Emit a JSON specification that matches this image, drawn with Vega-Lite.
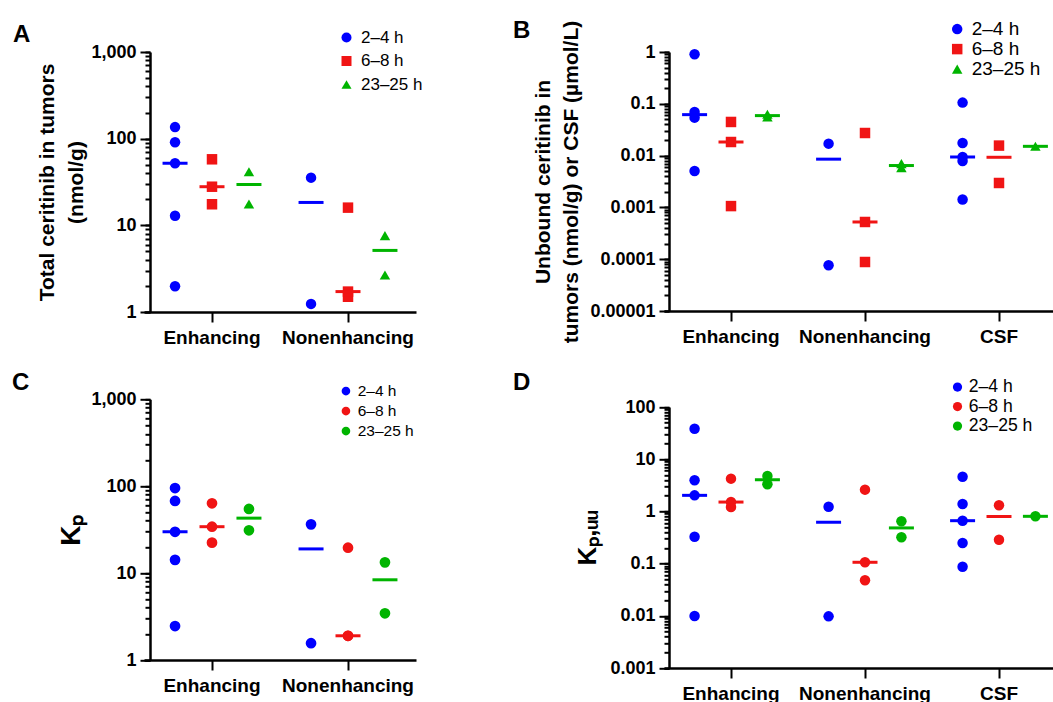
{
  "$schema": "https://vega.github.io/schema/vega-lite/v6.json",
  "autosize": {"type": "pad"},
  "padding": {"left": 12, "top": 18, "right": 0, "bottom": 0},
  "background": "white",
  "datasets": {
    "A": [
      {"region": "Enhancing", "time": "2–4 h", "value": 136},
      {"region": "Enhancing", "time": "2–4 h", "value": 90.8},
      {"region": "Enhancing", "time": "2–4 h", "value": 52},
      {"region": "Enhancing", "time": "2–4 h", "value": 12.9},
      {"region": "Enhancing", "time": "2–4 h", "value": 1.98},
      {"region": "Enhancing", "time": "6–8 h", "value": 57.8},
      {"region": "Enhancing", "time": "6–8 h", "value": 27.9},
      {"region": "Enhancing", "time": "6–8 h", "value": 17.5},
      {"region": "Enhancing", "time": "23–25 h", "value": 41.6},
      {"region": "Enhancing", "time": "23–25 h", "value": 17.6},
      {"region": "Nonenhancing", "time": "2–4 h", "value": 35.5},
      {"region": "Nonenhancing", "time": "2–4 h", "value": 1.24},
      {"region": "Nonenhancing", "time": "6–8 h", "value": 16.0},
      {"region": "Nonenhancing", "time": "6–8 h", "value": 1.5},
      {"region": "Nonenhancing", "time": "6–8 h", "value": 1.72},
      {"region": "Nonenhancing", "time": "23–25 h", "value": 7.6},
      {"region": "Nonenhancing", "time": "23–25 h", "value": 2.67}
    ],
    "B": [
      {"region": "Enhancing", "time": "2–4 h", "value": 0.903},
      {"region": "Enhancing", "time": "2–4 h", "value": 0.0695},
      {"region": "Enhancing", "time": "2–4 h", "value": 0.054},
      {"region": "Enhancing", "time": "2–4 h", "value": 0.00505},
      {"region": "Enhancing", "time": "6–8 h", "value": 0.0446},
      {"region": "Enhancing", "time": "6–8 h", "value": 0.0183},
      {"region": "Enhancing", "time": "6–8 h", "value": 0.00106},
      {"region": "Enhancing", "time": "23–25 h", "value": 0.0556},
      {"region": "Enhancing", "time": "23–25 h", "value": 0.0627},
      {"region": "Nonenhancing", "time": "2–4 h", "value": 0.017},
      {"region": "Nonenhancing", "time": "2–4 h", "value": 0.0000762},
      {"region": "Nonenhancing", "time": "6–8 h", "value": 0.0273},
      {"region": "Nonenhancing", "time": "6–8 h", "value": 0.000523},
      {"region": "Nonenhancing", "time": "6–8 h", "value": 0.0000883},
      {"region": "Nonenhancing", "time": "23–25 h", "value": 0.00586},
      {"region": "Nonenhancing", "time": "23–25 h", "value": 0.007},
      {"region": "CSF", "time": "2–4 h", "value": 0.1054},
      {"region": "CSF", "time": "2–4 h", "value": 0.0175},
      {"region": "CSF", "time": "2–4 h", "value": 0.0094},
      {"region": "CSF", "time": "2–4 h", "value": 0.00787},
      {"region": "CSF", "time": "2–4 h", "value": 0.00142},
      {"region": "CSF", "time": "6–8 h", "value": 0.0156},
      {"region": "CSF", "time": "6–8 h", "value": 0.00296},
      {"region": "CSF", "time": "23–25 h", "value": 0.0151}
    ],
    "C": [
      {"region": "Enhancing", "time": "2–4 h", "value": 95.3},
      {"region": "Enhancing", "time": "2–4 h", "value": 67.6},
      {"region": "Enhancing", "time": "2–4 h", "value": 29.9},
      {"region": "Enhancing", "time": "2–4 h", "value": 14.2},
      {"region": "Enhancing", "time": "2–4 h", "value": 2.46},
      {"region": "Enhancing", "time": "6–8 h", "value": 63.6},
      {"region": "Enhancing", "time": "6–8 h", "value": 34.2},
      {"region": "Enhancing", "time": "6–8 h", "value": 22.4},
      {"region": "Enhancing", "time": "23–25 h", "value": 54.7},
      {"region": "Enhancing", "time": "23–25 h", "value": 31.1},
      {"region": "Nonenhancing", "time": "2–4 h", "value": 36.4},
      {"region": "Nonenhancing", "time": "2–4 h", "value": 1.56},
      {"region": "Nonenhancing", "time": "6–8 h", "value": 19.6},
      {"region": "Nonenhancing", "time": "6–8 h", "value": 1.9},
      {"region": "Nonenhancing", "time": "6–8 h", "value": 1.9},
      {"region": "Nonenhancing", "time": "23–25 h", "value": 13.3},
      {"region": "Nonenhancing", "time": "23–25 h", "value": 3.45}
    ],
    "D": [
      {"region": "Enhancing", "time": "2–4 h", "value": 38.4},
      {"region": "Enhancing", "time": "2–4 h", "value": 3.94},
      {"region": "Enhancing", "time": "2–4 h", "value": 2.03},
      {"region": "Enhancing", "time": "2–4 h", "value": 0.327},
      {"region": "Enhancing", "time": "2–4 h", "value": 0.0099},
      {"region": "Enhancing", "time": "6–8 h", "value": 1.21},
      {"region": "Enhancing", "time": "6–8 h", "value": 4.24},
      {"region": "Enhancing", "time": "6–8 h", "value": 1.51},
      {"region": "Enhancing", "time": "23–25 h", "value": 3.31},
      {"region": "Enhancing", "time": "23–25 h", "value": 4.77},
      {"region": "Nonenhancing", "time": "2–4 h", "value": 1.23},
      {"region": "Nonenhancing", "time": "2–4 h", "value": 0.00976},
      {"region": "Nonenhancing", "time": "6–8 h", "value": 2.61},
      {"region": "Nonenhancing", "time": "6–8 h", "value": 0.106},
      {"region": "Nonenhancing", "time": "6–8 h", "value": 0.048},
      {"region": "Nonenhancing", "time": "23–25 h", "value": 0.646},
      {"region": "Nonenhancing", "time": "23–25 h", "value": 0.319},
      {"region": "CSF", "time": "2–4 h", "value": 4.62},
      {"region": "CSF", "time": "2–4 h", "value": 1.39},
      {"region": "CSF", "time": "2–4 h", "value": 0.664},
      {"region": "CSF", "time": "2–4 h", "value": 0.248},
      {"region": "CSF", "time": "2–4 h", "value": 0.0873},
      {"region": "CSF", "time": "6–8 h", "value": 1.31},
      {"region": "CSF", "time": "6–8 h", "value": 0.287},
      {"region": "CSF", "time": "23–25 h", "value": 0.805}
    ]
  },
  "columns": 2,
  "bounds": "flush",
  "align": "each",
  "spacing": {"row": 87.3, "column": 257},
  "resolve": {"scale": {"color": "independent", "shape": "independent", "x": "independent", "y": "independent", "xOffset": "independent"}},
  "concat": [
    {
      "width": 262,
      "height": 260,
      "title": {"text": "A", "anchor": "start", "frame": "group", "fontSize": 24, "fontWeight": "bold", "font": "Liberation Sans", "color": "black", "baseline": "alphabetic", "dx": -137, "offset": -25, "dy": 12},
      "data": {"name": "A"},
      "encoding": {
        "x": {"field": "region", "type": "nominal", "sort": ["Enhancing", "Nonenhancing"], "scale": {"type": "band", "range": [-6, 266], "paddingInner": 0, "paddingOuter": 0}, "axis": {"title": null, "labelAngle": 0, "labelFontSize": 19, "labelPadding": 6, "tickSize": 10}},
        "xOffset": {"field": "time", "type": "nominal", "sort": ["2–4 h", "6–8 h", "23–25 h"], "scale": {"paddingInner": 0, "paddingOuter": 0.34}},
        "color": {"field": "time", "type": "nominal", "sort": ["2–4 h", "6–8 h", "23–25 h"], "scale": {"domain": ["2–4 h", "6–8 h", "23–25 h"], "range": ["#0000ff", "#f01414", "#00b400"]},
          "legend": {"title": null, "orient": "none", "legendX": 188, "legendY": -23, "labelFontSize": 17, "labelFontWeight": "normal", "symbolSize": 100, "rowPadding": 5.5, "labelOffset": 6, "padding": 0, "symbolStrokeWidth": 0}}
      },
      "resolve": {"axis": {"y": "independent"}},
      "layer": [
        {
          "mark": {"type": "point", "filled": true, "size": 110, "opacity": 1, "strokeWidth": 0},
          "encoding": {
            "y": {"field": "value", "type": "quantitative", "scale": {"type": "log", "domain": [1, 1000], "nice": false},
              "axis": {"orient": "left", "values": [1,2,3,4,5,6,7,8,9,10,20,30,40,50,60,70,80,90,100,200,300,400,500,600,700,800,900,1000], "format": ",~f", "tickSize": 5, "labelPadding": 9,
                "labelExpr": "abs(log(datum.value)/LN10 - round(log(datum.value)/LN10)) < 0.001 ? datum.label : ''",
                "title": ["Total ceritinib in tumors", "(nmol/g)"], "titleFontSize": 21, "titleLineHeight": 29, "titlePadding": 4}},
            "shape": {"field": "time", "type": "nominal", "scale": {"domain": ["2–4 h", "6–8 h", "23–25 h"], "range": ["circle", "square", "triangle-up"]}}
          }
        },
        {
          "mark": {"type": "tick", "size": 25, "thickness": 3},
          "encoding": {
            "y": {"aggregate": "median", "field": "value", "type": "quantitative",
              "axis": {"orient": "left", "values": [1, 10, 100, 1000], "labels": false, "domain": false, "title": null, "tickSize": 10}},
            "color": {"field": "time", "type": "nominal", "legend": null}
          }
        }
      ]
    },
    {
      "width": 392,
      "height": 259,
      "title": {"text": "B", "anchor": "start", "frame": "group", "fontSize": 24, "fontWeight": "bold", "font": "Liberation Sans", "color": "black", "baseline": "alphabetic", "dx": -156, "offset": -24.7, "dy": 17.3},
      "data": {"name": "B"},
      "encoding": {
        "x": {"field": "region", "type": "nominal", "sort": ["Enhancing", "Nonenhancing", "CSF"], "scale": {"type": "band", "range": [-5, 397], "paddingInner": 0, "paddingOuter": 0}, "axis": {"title": null, "labelAngle": 0, "labelFontSize": 19, "labelPadding": 6, "tickSize": 10}},
        "xOffset": {"field": "time", "type": "nominal", "sort": ["2–4 h", "6–8 h", "23–25 h"], "scale": {"paddingInner": 0, "paddingOuter": 0.34}},
        "color": {"field": "time", "type": "nominal", "sort": ["2–4 h", "6–8 h", "23–25 h"], "scale": {"domain": ["2–4 h", "6–8 h", "23–25 h"], "range": ["#0000ff", "#f01414", "#00b400"]},
          "legend": {"title": null, "orient": "none", "legendX": 278.7, "legendY": -32.4, "labelFontSize": 19, "labelFontWeight": "normal", "symbolSize": 110, "rowPadding": 0, "labelOffset": 5, "padding": 0, "symbolStrokeWidth": 0}}
      },
      "resolve": {"axis": {"y": "independent"}},
      "layer": [
        {
          "mark": {"type": "point", "filled": true, "size": 110, "opacity": 1, "strokeWidth": 0},
          "encoding": {
            "y": {"field": "value", "type": "quantitative", "scale": {"type": "log", "domain": [0.00001, 1], "nice": false},
              "axis": {"orient": "left", "values": [0.00001,0.00002,0.00003,0.00004,0.00005,0.00006,0.00007,0.00008,0.00009,0.0001,0.0002,0.0003,0.0004,0.0005,0.0006,0.0007,0.0008,0.0009,0.001,0.002,0.003,0.004,0.005,0.006,0.007,0.008,0.009,0.01,0.02,0.03,0.04,0.05,0.06,0.07,0.08,0.09,0.1,0.2,0.3,0.4,0.5,0.6,0.7,0.8,0.9,1], "format": "~f", "tickSize": 5, "labelPadding": 9,
                "labelExpr": "abs(log(datum.value)/LN10 - round(log(datum.value)/LN10)) < 0.001 ? datum.label : ''",
                "title": ["Unbound ceritinib in", "tumors (nmol/g) or CSF (µmol/L)"], "titleFontSize": 21, "titleLineHeight": 28, "titlePadding": 8}},
            "shape": {"field": "time", "type": "nominal", "scale": {"domain": ["2–4 h", "6–8 h", "23–25 h"], "range": ["circle", "square", "triangle-up"]}}
          }
        },
        {
          "mark": {"type": "tick", "size": 25, "thickness": 3},
          "encoding": {
            "y": {"aggregate": "median", "field": "value", "type": "quantitative",
              "axis": {"orient": "left", "values": [0.00001, 0.0001, 0.001, 0.01, 0.1, 1], "labels": false, "domain": false, "title": null, "tickSize": 10}},
            "color": {"field": "time", "type": "nominal", "legend": null}
          }
        }
      ]
    },
    {
      "width": 262,
      "height": 260.7,
      "title": {"text": "C", "anchor": "start", "frame": "group", "fontSize": 24, "fontWeight": "bold", "font": "Liberation Sans", "color": "black", "baseline": "alphabetic", "dx": -138, "offset": -21.7, "dy": 8.7},
      "data": {"name": "C"},
      "encoding": {
        "x": {"field": "region", "type": "nominal", "sort": ["Enhancing", "Nonenhancing"], "scale": {"type": "band", "range": [-6, 266], "paddingInner": 0, "paddingOuter": 0}, "axis": {"title": null, "labelAngle": 0, "labelFontSize": 19, "labelPadding": 6, "tickSize": 10}},
        "xOffset": {"field": "time", "type": "nominal", "sort": ["2–4 h", "6–8 h", "23–25 h"], "scale": {"paddingInner": 0, "paddingOuter": 0.34}},
        "color": {"field": "time", "type": "nominal", "sort": ["2–4 h", "6–8 h", "23–25 h"], "scale": {"domain": ["2–4 h", "6–8 h", "23–25 h"], "range": ["#0000ff", "#f01414", "#00b400"]},
          "legend": {"title": null, "orient": "none", "legendX": 188.2, "legendY": -16, "labelFontSize": 15.5, "labelFontWeight": "normal", "symbolSize": 75, "symbolType": "circle", "rowPadding": 3, "labelOffset": 4, "padding": 0, "symbolStrokeWidth": 0}}
      },
      "resolve": {"axis": {"y": "independent"}},
      "layer": [
        {
          "mark": {"type": "point", "filled": true, "shape": "circle", "size": 115, "opacity": 1, "strokeWidth": 0},
          "encoding": {
            "y": {"field": "value", "type": "quantitative", "scale": {"type": "log", "domain": [1, 1000], "nice": false},
              "axis": {"orient": "left", "values": [1,2,3,4,5,6,7,8,9,10,20,30,40,50,60,70,80,90,100,200,300,400,500,600,700,800,900,1000], "format": ",~f", "tickSize": 5, "labelPadding": 9,
                "labelExpr": "abs(log(datum.value)/LN10 - round(log(datum.value)/LN10)) < 0.001 ? datum.label : ''",
                "title": "Kₚ", "titleFontSize": 28, "titlePadding": 5}}
          }
        },
        {
          "mark": {"type": "tick", "size": 25, "thickness": 3},
          "encoding": {
            "y": {"aggregate": "median", "field": "value", "type": "quantitative",
              "axis": {"orient": "left", "values": [1, 10, 100, 1000], "labels": false, "domain": false, "title": null, "tickSize": 10}},
            "color": {"field": "time", "type": "nominal", "legend": null}
          }
        }
      ]
    },
    {
      "width": 392,
      "height": 268.7,
      "title": {"text": "D", "anchor": "start", "frame": "group", "fontSize": 24, "fontWeight": "bold", "font": "Liberation Sans", "color": "black", "baseline": "alphabetic", "dx": -156, "offset": -21, "dy": 14.8},
      "data": {"name": "D"},
      "encoding": {
        "x": {"field": "region", "type": "nominal", "sort": ["Enhancing", "Nonenhancing", "CSF"], "scale": {"type": "band", "range": [-5, 397], "paddingInner": 0, "paddingOuter": 0}, "axis": {"title": null, "labelAngle": 0, "labelFontSize": 19, "labelPadding": 6, "tickSize": 10}},
        "xOffset": {"field": "time", "type": "nominal", "sort": ["2–4 h", "6–8 h", "23–25 h"], "scale": {"paddingInner": 0, "paddingOuter": 0.34}},
        "color": {"field": "time", "type": "nominal", "sort": ["2–4 h", "6–8 h", "23–25 h"], "scale": {"domain": ["2–4 h", "6–8 h", "23–25 h"], "range": ["#0000ff", "#f01414", "#00b400"]},
          "legend": {"title": null, "orient": "none", "legendX": 279.7, "legendY": -21, "labelFontSize": 17.6, "labelFontWeight": "normal", "symbolSize": 85, "symbolType": "circle", "rowPadding": 0.5, "labelOffset": 2.5, "padding": 0, "symbolStrokeWidth": 0}}
      },
      "resolve": {"axis": {"y": "independent"}},
      "layer": [
        {
          "mark": {"type": "point", "filled": true, "shape": "circle", "size": 110, "opacity": 1, "strokeWidth": 0},
          "encoding": {
            "y": {"field": "value", "type": "quantitative", "scale": {"type": "log", "domain": [0.001, 100], "nice": false, "range": [268.7, 7.7]},
              "axis": {"orient": "left", "values": [0.001,0.002,0.003,0.004,0.005,0.006,0.007,0.008,0.009,0.01,0.02,0.03,0.04,0.05,0.06,0.07,0.08,0.09,0.1,0.2,0.3,0.4,0.5,0.6,0.7,0.8,0.9,1,2,3,4,5,6,7,8,9,10,20,30,40,50,60,70,80,90,100], "format": "~f", "tickSize": 5, "labelPadding": 9,
                "labelExpr": "abs(log(datum.value)/LN10 - round(log(datum.value)/LN10)) < 0.001 ? datum.label : ''",
                "title": "Kₚ,ᵤᵤ", "titleFontSize": 26, "titlePadding": 9}}
          }
        },
        {
          "mark": {"type": "tick", "size": 25, "thickness": 3},
          "encoding": {
            "y": {"aggregate": "median", "field": "value", "type": "quantitative",
              "axis": {"orient": "left", "values": [0.001, 0.01, 0.1, 1, 10, 100], "labels": false, "domain": false, "title": null, "tickSize": 10}},
            "color": {"field": "time", "type": "nominal", "legend": null}
          }
        }
      ]
    }
  ],
  "config": {
    "font": "Liberation Sans",
    "view": {"stroke": null},
    "axis": {
      "grid": false,
      "domainColor": "black",
      "domainWidth": 2.5,
      "tickColor": "black",
      "tickWidth": 2,
      "labelColor": "black",
      "labelFont": "Liberation Sans",
      "labelFontWeight": "bold",
      "labelFontSize": 18,
      "labelPadding": 4,
      "titleColor": "black",
      "titleFont": "Liberation Sans",
      "titleFontWeight": "bold"
    },
    "legend": {"labelColor": "black", "labelFont": "Liberation Sans"}
  }
}
